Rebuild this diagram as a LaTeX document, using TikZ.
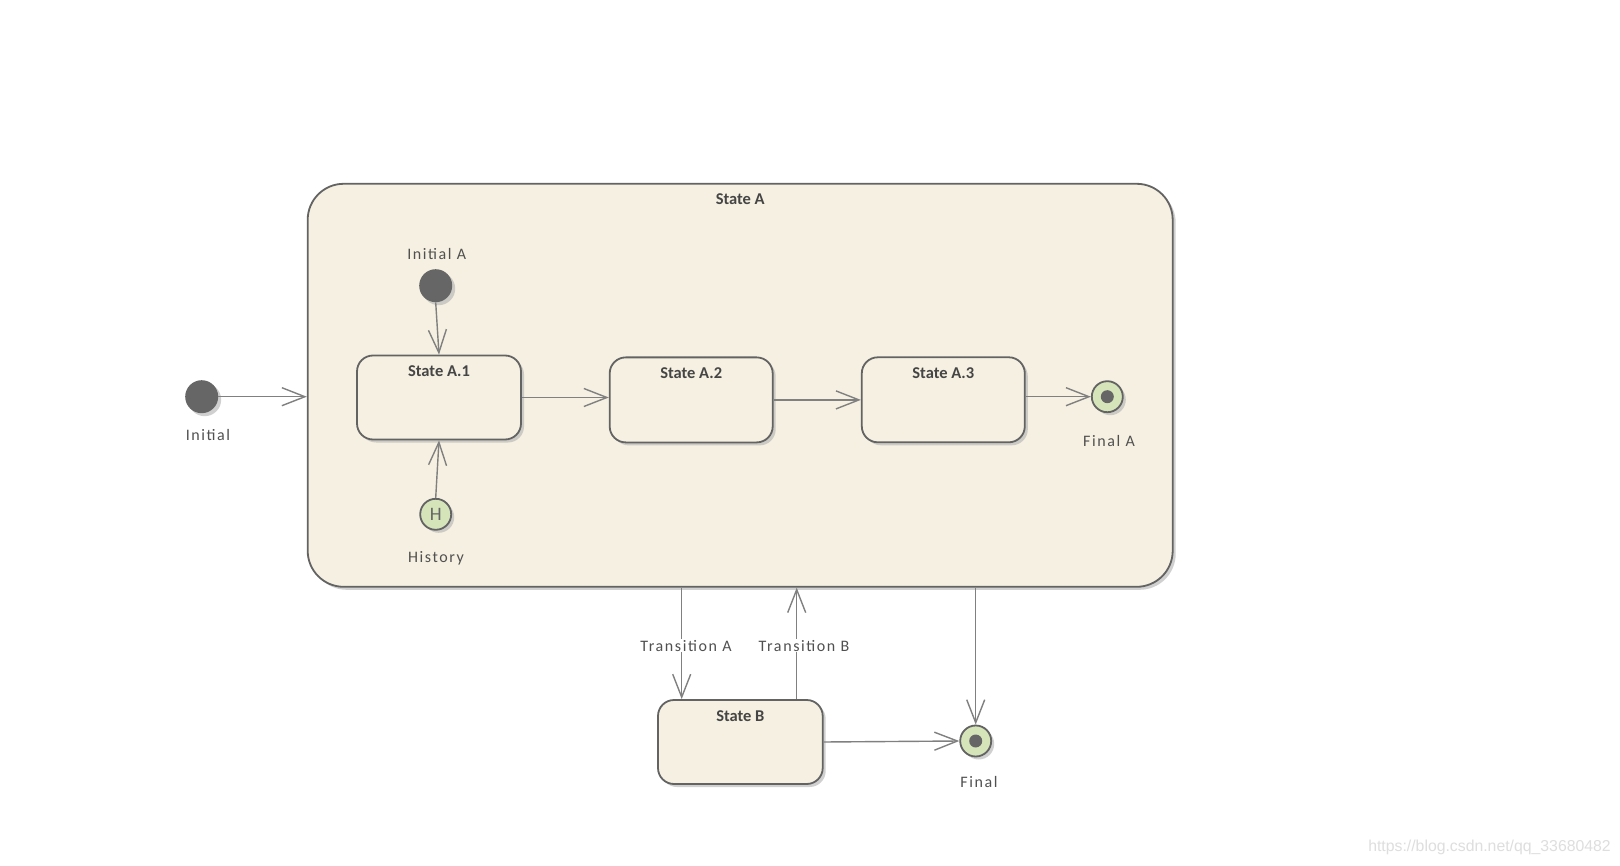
\documentclass[tikz,border=0pt]{standalone}
\usepackage{fontspec}
\setmainfont{Carlito}
\newfontfamily\lblfont[LetterSpace=10]{Carlito}
\newfontfamily\wmfont{Liberation Sans}
\usetikzlibrary{arrows.meta,shadows,calc}
\definecolor{boxfill}{HTML}{F5F0E1}
\definecolor{edgec}{HTML}{636363}
\definecolor{linec}{HTML}{808080}
\definecolor{dotc}{HTML}{666666}
\definecolor{greenc}{HTML}{D6E4BA}
\definecolor{txtc}{HTML}{505050}
\definecolor{titc}{HTML}{454545}
\tikzset{
  shad/.style={drop shadow={shadow xshift=3pt, shadow yshift=-3pt, fill=black!30, opacity=0.6}},
  statebox/.style={shad, draw=edgec, fill=boxfill, line width=1.8pt, rounded corners=16pt, inner sep=0pt},
  bigstate/.style={statebox, rounded corners=36pt},
  sttitle/.style={font=\fontsize{16.5}{18}\selectfont\bfseries, text=titc, inner sep=0pt},
  lbl/.style={font=\lblfont\fontsize{16}{18}\selectfont, text=txtc, inner sep=1pt},
  initdot/.style={shad, circle, fill=dotc, minimum size=33pt, inner sep=0pt},
  finaldot/.style={shad, circle, draw=edgec, line width=1.8pt, fill=greenc, minimum size=31pt, inner sep=0pt,
     path picture={\fill[dotc] (path picture bounding box.center) circle (6.5pt);}},
  histdot/.style={shad, circle, draw=edgec, line width=1.8pt, fill=greenc, minimum size=31pt, inner sep=0pt,
     font=\fontsize{19}{19}\selectfont, text=dotc},
  arr/.style={draw=linec, line width=1.4pt, -{Straight Barb[length=23pt,width=18pt,line width=1.4pt]}},
}
\begin{document}
\begin{tikzpicture}[x=1pt,y=-1pt]
\useasboundingbox (0,0) rectangle (1620,866);
\fill[white] (0,0) rectangle (1620,866);

% composite state
\node[bigstate, minimum width=865pt, minimum height=403pt] (stA) at (740.2,385.3) {};
\node[sttitle] (stAt) at ([yshift=-16.4pt]stA.north) {State A};

% substates
\node[statebox, minimum width=164pt, minimum height=84pt] (A1) at (439,397.5) {};
\node[sttitle] (A1t) at ([yshift=-17pt]A1.north) {State A.1};
\node[statebox, minimum width=163pt, minimum height=85pt] (A2) at (691.2,399.9) {};
\node[sttitle] (A2t) at ([yshift=-16.5pt]A2.north) {State A.2};
\node[statebox, minimum width=163pt, minimum height=85pt] (A3) at (943.3,399.8) {};
\node[sttitle] (A3t) at ([yshift=-16.5pt]A3.north) {State A.3};

\node[statebox, minimum width=164.7pt, minimum height=84pt] (stB) at (740.35,742) {};
\node[sttitle] (stBt) at ([yshift=-16.7pt]stB.north) {State B};

% pseudo states
\node[initdot] (init) at (201.7,396.7) {};
\node[lbl] (initl) at (208,435) {Initial};
\node[initdot] (iA) at (435.7,285.7) {};
\node[lbl] (iAl) at (436.7,254.3) {Initial A};
\node[finaldot] (fA) at (1107.3,396.7) {};
\node[lbl] (fAl) at (1109,441) {Final A};
\node[histdot] (hist) at (435.7,514.3) {H};
\node[lbl] (histl) at (436,558) {History};
\node[finaldot] (fin) at (975.7,741) {};
\node[lbl] (finl) at (979,781.7) {Final};

% transitions
\draw[arr] (init.east) -- (init -| stA.west);
\draw[arr] (iA.south) -- (A1.north);
\draw[arr] (hist.north) -- (A1.south);
\draw[arr] (A1.east) -- (A1.east -| A2.west);
\draw[arr] (A2.east) -- (A2.east -| A3.west);
\draw[arr] (fA.west -| A3.east) -- (fA.west);

\coordinate (tAx) at ([xshift=-58.65pt]stB.north);
\coordinate (tBx) at ([xshift=56.35pt]stB.north);
\draw[arr] (stA.south -| tAx) -- node[lbl, fill=white, pos=0.52, xshift=4.3pt] (tAl) {Transition A} (tAx);
\draw[arr] (tBx) -- node[lbl, fill=white, pos=0.48, xshift=7.3pt] (tBl) {Transition B} (stA.south -| tBx);
\draw[arr] (stA.south -| fin.north) -- (fin.north);
\draw[arr] (stB.east) -- (fin.west);

% watermark
\node[font=\wmfont\fontsize{15.8}{16}\selectfont, text=black!13, inner sep=0pt] (wm) at (1489.5,847) {https://blog.csdn.net/qq\_33680482};
\end{tikzpicture}
\end{document}
